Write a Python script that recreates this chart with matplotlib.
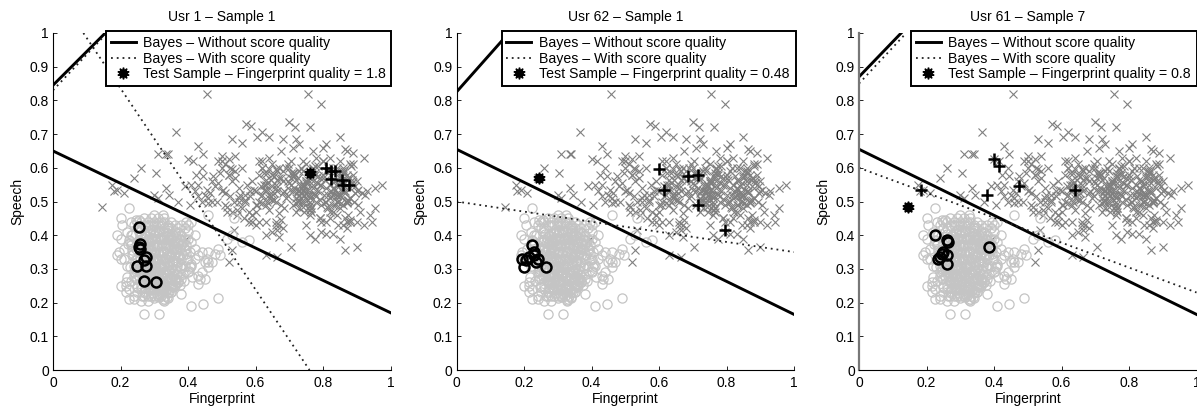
import matplotlib
matplotlib.use("Agg")
import matplotlib.pyplot as plt

plt.rcParams['font.family'] = ['Liberation Sans', 'DejaVu Sans']

# impostor scores, same in all three panels
imp_fp = [.457, .755, .795, .70, .718, .762, .572, .588, .365, .62,
          .605, .64, .68, .72, .53, .56, .43, .73, .71, .675,
          .85, .81, .80, .77, .87, .89, .865, .31, .335, .34,
          .445, .50, .54, .52, .50, .40, .92, .26, .305, .24,
          .145, .175, .18, .19, .21, .395, .52, .53, .535, .63,
          .63, .665, .67, .705, .865, .90, .76, .775, .85, .83,
          .81, .795, .955, .945, .92, .94, .975, .955, .925, .93,
          .90, .88, .86, .30, .31, .335, .345, .37, .39, .41,
          .42, .43, .425, .44, .46, .45, .47, .48, .415, .405,
          .49, .50, .51, .52, .53, .54, .55, .56, .57, .58,
          .50, .51, .515, .525, .535, .545, .555, .565, .575, .585,
          .52, .53, .54, .55, .56, .57, .58, .59, .60, .61,
          .59, .60, .61, .62, .63, .64, .65, .66, .67, .68,
          .60, .61, .62, .63, .64, .65, .66, .67, .68, .69,
          .615, .625, .635, .645, .655, .665, .675, .685, .695, .705,
          .62, .63, .64, .65, .66, .67, .68, .69, .70, .71,
          .66, .665, .675, .685, .695, .705, .715, .725, .735, .745,
          .70, .71, .72, .73, .74, .75, .76, .77, .78, .79,
          .705, .715, .725, .735, .745, .755, .765, .775, .785, .795,
          .71, .72, .73, .74, .75, .76, .77, .78, .79, .80,
          .72, .73, .74, .75, .76, .77, .78, .79, .80, .81,
          .735, .745, .755, .765, .775, .785, .795, .805, .815, .825,
          .75, .76, .77, .74, .75, .76, .755, .765, .775, .745,
          .81, .82, .83, .84, .85, .86, .87, .88, .89, .90,
          .815, .825, .835, .845, .855, .865, .875, .885, .895, .905,
          .82, .83, .84, .85, .86, .87, .88, .89, .90, .91,
          .80, .81, .82, .83, .84, .85, .86, .87, .88, .885,
          .83, .84, .85, .86, .87, .875, .865, .855, .845, .835,
          .79, .80, .81, .82, .83, .84, .85, .86, .87, .88,
          .64, .65, .66, .67, .68, .63, .62, .61, .60, .59,
          .625, .635, .645, .655, .665, .64, .65, .66, .63, .62,
          .615, .645, .655, .635, .665, .625, .675, .605, .595, .585,
          .725, .735, .745, .755, .765, .775, .73, .74, .75, .76,
          .72, .77, .745, .755, .765, .735, .725, .715, .705, .695,
          .742, .752, .762, .772, .732, .722, .782, .792, .712, .702,
          .835, .845, .855, .865, .875, .885, .84, .85, .86, .87,
          .825, .88, .895, .83, .815, .805, .795, .905, .915, .785,
          .842, .852, .862, .872, .832, .822, .882, .892, .812, .802,
          .44, .455, .465, .475, .485, .495, .505, .515, .525, .545,
          .43, .445, .46, .47, .49, .51, .53, .55, .57, .59]
imp_sp = [.82, .82, .79, .735, .72, .72, .73, .725, .705, .705,
          .69, .69, .685, .685, .685, .675, .665, .67, .66, .65,
          .69, .67, .66, .65, .65, .645, .655, .64, .64, .64,
          .64, .635, .635, .625, .62, .625, .63, .60, .585, .57,
          .485, .55, .53, .535, .525, .39, .32, .355, .415, .40,
          .34, .335, .395, .365, .355, .365, .40, .39, .39, .405,
          .405, .41, .48, .44, .43, .46, .55, .54, .52, .53,
          .44, .44, .43, .52, .51, .54, .52, .50, .545, .55,
          .53, .515, .58, .60, .495, .52, .56, .545, .62, .49,
          .62, .60, .61, .58, .56, .59, .54, .60, .50, .47,
          .53, .49, .47, .515, .50, .46, .52, .45, .55, .53,
          .58, .595, .57, .51, .48, .505, .44, .46, .49, .50,
          .56, .53, .58, .60, .55, .52, .61, .50, .57, .59,
          .47, .44, .62, .49, .51, .58, .54, .43, .56, .60,
          .515, .55, .585, .525, .505, .565, .49, .53, .61, .57,
          .495, .535, .475, .545, .595, .465, .525, .51, .555, .49,
          .43, .415, .445, .48, .515, .62, .585, .53, .50, .55,
          .60, .53, .565, .48, .59, .61, .52, .54, .50, .57,
          .55, .575, .50, .60, .52, .555, .47, .585, .53, .49,
          .585, .51, .535, .62, .56, .49, .60, .515, .55, .62,
          .47, .59, .53, .56, .51, .55, .63, .45, .58, .54,
          .51, .545, .48, .575, .52, .605, .44, .50, .60, .53,
          .43, .46, .56, .50, .535, .50, .52, .48, .58, .47,
          .59, .55, .52, .60, .57, .53, .50, .54, .61, .56,
          .48, .515, .56, .50, .59, .53, .46, .555, .525, .49,
          .63, .54, .50, .575, .55, .44, .51, .58, .53, .47,
          .62, .50, .45, .60, .52, .62, .49, .58, .445, .555,
          .565, .46, .52, .60, .505, .57, .45, .535, .43, .49,
          .45, .57, .44, .51, .47, .525, .48, .56, .42, .61,
          .63, .41, .44, .60, .42, .44, .60, .62, .43, .44,
          .535, .555, .515, .575, .53, .595, .505, .55, .565, .52,
          .545, .565, .525, .50, .59, .585, .57, .49, .535, .515,
          .505, .525, .545, .565, .585, .605, .515, .535, .555, .575,
          .495, .595, .515, .535, .48, .55, .57, .54, .585, .56,
          .485, .505, .475, .525, .545, .525, .555, .505, .575, .535,
          .535, .555, .575, .525, .505, .565, .545, .515, .585, .495,
          .575, .51, .545, .49, .52, .565, .55, .535, .525, .575,
          .515, .495, .59, .565, .54, .47, .605, .50, .485, .52,
          .50, .535, .525, .575, .50, .585, .535, .485, .60, .475,
          .55, .575, .51, .50, .555, .525, .47, .50, .52, .46]

# genuine scores, same in all three panels
gen_fp = [.225, .20, .205, .23, .245, .255, .30, .325, .33, .19,
          .20, .195, .19, .20, .20, .215, .215, .225, .24, .26,
          .28, .27, .315, .41, .445, .49, .38, .43, .435, .45,
          .46, .46, .455, .47, .44, .46, .48, .49, .495, .515,
          .535, .46, .58, .56, .53, .40, .395, .41, .21, .22,
          .23, .24, .25, .26, .27, .28, .29, .30, .31, .32,
          .33, .34, .35, .36, .37, .38, .39, .40, .41, .42,
          .21, .22, .23, .24, .25, .26, .27, .28, .29, .30,
          .31, .32, .33, .34, .35, .36, .37, .38, .39, .40,
          .215, .225, .235, .245, .255, .265, .275, .285, .295, .305,
          .315, .325, .335, .345, .355, .365, .375, .385, .395, .405,
          .23, .24, .25, .26, .27, .28, .29, .30, .31, .32,
          .33, .34, .35, .36, .37, .38, .39, .40, .235, .245,
          .255, .265, .275, .285, .295, .305, .315, .325, .335, .345,
          .355, .365, .375, .385, .24, .25, .26, .27, .28, .29,
          .30, .31, .32, .33, .34, .35, .36, .37, .38, .39,
          .245, .255, .265, .275, .285, .295, .305, .315, .325, .335,
          .345, .355, .365, .375, .25, .26, .27, .28, .29, .30,
          .31, .32, .33, .34, .35, .36, .37, .255, .265, .275,
          .285, .295, .305, .315, .325, .335, .345, .355, .365, .26,
          .27, .28, .29, .30, .31, .32, .33, .34, .35, .36,
          .37, .38, .24, .25, .26, .27, .28, .29, .30, .31,
          .32, .33, .34, .35, .36, .37, .28, .29, .30, .31,
          .32, .33, .34, .35, .27, .28, .29, .30, .31, .32,
          .33, .34, .42, .43, .41, .40, .44, .42, .43, .45,
          .262, .274, .288, .299, .313, .326, .338, .351, .364, .377,
          .256, .269, .281, .294, .306, .318, .331, .343, .357, .371,
          .259, .272, .284, .297, .309, .322, .334, .347, .359, .368,
          .264, .277, .289, .302, .314, .327, .339, .352, .362, .374,
          .257, .271, .283, .296, .308, .321, .333, .346, .358, .369,
          .266, .279, .291, .304, .316, .329, .341, .354, .366, .379,
          .258, .268, .282, .293, .307, .319, .332, .344, .356, .367,
          .263, .276, .287, .301, .312, .324, .337, .349, .361, .372,
          .267, .278, .292, .303, .317, .328, .342, .353, .363, .376,
          .273, .286, .298, .311, .323, .336, .348, .272, .285, .358,
          .296, .308, .319, .332, .345, .283, .271, .356, .300, .313,
          .326, .338, .290, .278, .350, .315, .328, .303, .341, .294,
          .225, .235, .228, .242, .219, .232, .238, .245, .222, .248,
          .385, .392, .398, .405, .388, .395, .402, .412, .382, .408]
gen_sp = [.48, .45, .43, .44, .445, .445, .46, .46, .44, .40,
          .39, .35, .34, .33, .25, .25, .23, .21, .21, .205,
          .205, .165, .165, .19, .195, .215, .225, .255, .27, .27,
          .305, .32, .33, .32, .35, .35, .345, .36, .34, .39,
          .45, .46, .385, .38, .40, .43, .44, .44, .36, .31,
          .38, .43, .44, .44, .45, .44, .45, .44, .45, .44,
          .45, .43, .44, .43, .42, .43, .42, .41, .38, .36,
          .33, .41, .40, .29, .42, .42, .43, .43, .43, .43,
          .43, .43, .42, .42, .42, .41, .41, .40, .39, .39,
          .26, .24, .40, .27, .41, .22, .40, .41, .41, .41,
          .41, .41, .41, .40, .40, .40, .39, .38, .37, .35,
          .37, .28, .25, .39, .23, .39, .39, .39, .39, .39,
          .39, .39, .39, .38, .38, .37, .36, .33, .34, .36,
          .38, .38, .38, .38, .37, .37, .37, .37, .37, .37,
          .36, .36, .36, .34, .31, .33, .36, .36, .36, .35,
          .35, .35, .35, .35, .34, .34, .34, .34, .33, .31,
          .30, .30, .35, .34, .33, .33, .33, .33, .33, .33,
          .32, .32, .32, .31, .27, .30, .32, .32, .32, .31,
          .31, .31, .31, .30, .30, .30, .29, .28, .29, .30,
          .30, .30, .29, .29, .29, .29, .29, .28, .27, .25,
          .28, .28, .28, .28, .28, .28, .27, .27, .27, .27,
          .26, .27, .22, .23, .24, .26, .26, .26, .26, .26,
          .25, .25, .25, .25, .25, .26, .24, .24, .24, .24,
          .24, .24, .23, .23, .22, .22, .22, .22, .22, .22,
          .21, .215, .33, .34, .31, .29, .29, .40, .28, .32,
          .405, .398, .408, .402, .411, .396, .406, .399, .391, .387,
          .385, .392, .379, .388, .383, .391, .378, .386, .381, .374,
          .367, .373, .362, .371, .365, .376, .361, .369, .363, .358,
          .352, .347, .355, .349, .343, .354, .346, .351, .344, .339,
          .334, .328, .338, .331, .326, .337, .329, .336, .327, .321,
          .315, .322, .311, .318, .309, .317, .312, .319, .308, .304,
          .297, .303, .295, .301, .293, .299, .292, .298, .288, .285,
          .279, .276, .283, .274, .282, .272, .281, .273, .268, .277,
          .263, .258, .267, .256, .265, .254, .262, .253, .261, .251,
          .244, .241, .248, .236, .246, .238, .243, .233, .247, .252,
          .229, .226, .234, .221, .231, .255, .268, .246, .213, .218,
          .208, .216, .239, .286, .232, .225, .204, .416, .424, .418,
          .385, .355, .305, .325, .275, .265, .345, .295, .375, .245,
          .285, .355, .325, .305, .265, .345, .295, .275, .375, .315]

titles = ['Usr 1 – Sample 1', 'Usr 62 – Sample 1', 'Usr 61 – Sample 7']
qualities = ['1.8', '0.48', '0.8']

# boundary lines as (x0, x1), (y0, y1)
bayes_lines = [((0, 1), (.65, .17)), ((0, 1), (.655, .165)), ((0, 1), (.655, .165))]
bayes_upper = [((0, .155), (.845, 1)), ((0, .155), (.825, 1)), ((0, .125), (.87, 1))]
quality_lines = [((.09, .76), (1, 0)), ((0, 1), (.50, .35)), ((0, 1), (.60, .23))]
quality_upper = [((0, .16), (.83, 1)), None, ((0, .14), (.85, 1))]

test_fp = [.76, .245, .145]
test_sp = [.585, .57, .485]

user_imp_fp = [[.81, .825, .835, .825, .855, .86, .877],
               [.60, .615, .685, .715, .715, .795],
               [.40, .415, .185, .38, .475, .64]]
user_imp_sp = [[.60, .59, .59, .567, .565, .55, .55],
               [.595, .535, .575, .58, .49, .415],
               [.625, .605, .535, .52, .545, .535]]
user_gen_fp = [[.255, .257, .255, .258, .275, .27, .25, .275, .27, .305],
               [.225, .195, .20, .23, .24, .215, .235, .265, .23, .205],
               [.225, .26, .265, .385, .245, .26, .24, .235, .26, .25]]
user_gen_sp = [[.425, .375, .365, .36, .335, .325, .31, .31, .265, .26],
               [.37, .33, .305, .34, .33, .335, .32, .305, .35, .325],
               [.40, .385, .38, .365, .345, .34, .335, .33, .315, .35]]

W, H = 1197, 407
lefts = [53, 456.5, 859]
legend_left = [106, 501.5, 911]
legend_right = [391, 796, 1197]
dots = (0, (1, 2.2))

fig = plt.figure(figsize=(W / 100, H / 100), dpi=100)

for i in range(3):
    ax = fig.add_axes([lefts[i] / W, 1 - 370 / H, 337.5 / W, 337 / H])
    ax.plot(imp_fp, imp_sp, 'x', color='#808080', ms=5.2, mew=0.8)
    ax.plot(gen_fp, gen_sp, 'o', mfc='none', mec='#c4c4c4', ms=6.6, mew=0.9)

    ax.plot(*bayes_lines[i], color='black', lw=2.1)
    ax.plot(*bayes_upper[i], color='black', lw=2.1)
    ax.plot(*quality_lines[i], color='#222222', lw=1.3, ls=dots)
    if quality_upper[i] is not None:
        ax.plot(*quality_upper[i], color='#222222', lw=1.3, ls=dots)

    ax.plot(user_gen_fp[i], user_gen_sp[i], 'o', mfc='none', mec='black', ms=7.2, mew=1.8, zorder=4)
    ax.plot(user_imp_fp[i], user_imp_sp[i], '+', color='black', ms=8, mew=1.8, zorder=4)
    ax.plot(test_fp[i], test_sp[i], marker=(10, 1, 0), color='black', ms=8.5, ls='none', zorder=5)
    ax.plot(test_fp[i], test_sp[i], 'o', color='black', ms=6, ls='none', zorder=5)

    ax.set_xlim(0, 1)
    ax.set_ylim(0, 1)
    ax.set_xticks([0, .2, .4, .6, .8, 1])
    ax.set_xticklabels(['0', '0.2', '0.4', '0.6', '0.8', '1'])
    ax.set_yticks([0, .1, .2, .3, .4, .5, .6, .7, .8, .9, 1])
    ax.set_yticklabels(['0', '0.1', '0.2', '0.3', '0.4', '0.5', '0.6', '0.7', '0.8', '0.9', '1'])
    ax.tick_params(direction='in', length=3, width=0.6, labelsize=10, pad=3)
    ax.tick_params(axis='x', pad=4.5)
    ax.spines['top'].set_visible(False)
    ax.spines['right'].set_visible(False)
    ax.spines['bottom'].set_linewidth(0.8)
    if i == 2:
        ax.spines['left'].set_color('#777777')
        ax.spines['left'].set_linewidth(1.6)
    else:
        ax.spines['left'].set_linewidth(0.8)
    ax.set_title(titles[i], fontsize=10, pad=8.5)
    ax.set_xlabel('Fingerprint', fontsize=10, labelpad=1.5)
    ax.set_ylabel('Speech', fontsize=10, labelpad=4)

    # legend box is white and hides the lines under it
    h1, = ax.plot([], [], color='black', lw=2.1)
    h2, = ax.plot([], [], color='#222222', lw=1.3, ls=dots)
    h3, = ax.plot([], [], marker=(10, 1, 0), color='black', ms=8.5, ls='none')
    leg_w = (legend_right[i] - legend_left[i]) / 337.5
    leg = ax.legend([h1, h2, h3],
                    ['Bayes – Without score quality', 'Bayes – With score quality',
                     'Test Sample – Fingerprint quality = ' + qualities[i]],
                    bbox_to_anchor=((legend_left[i] - lefts[i]) / 337.5, 1 - 51 / 337, leg_w, 51 / 337),
                    loc='center left', mode='expand', fontsize=10.15, frameon=True, fancybox=False,
                    framealpha=1, edgecolor='black', borderaxespad=0, borderpad=0.35,
                    handlelength=1.75, handletextpad=0.55, labelspacing=0.1)
    leg.get_frame().set_linewidth(1.4)
    leg.set_zorder(6)

fig.savefig('out.png', dpi=100)
